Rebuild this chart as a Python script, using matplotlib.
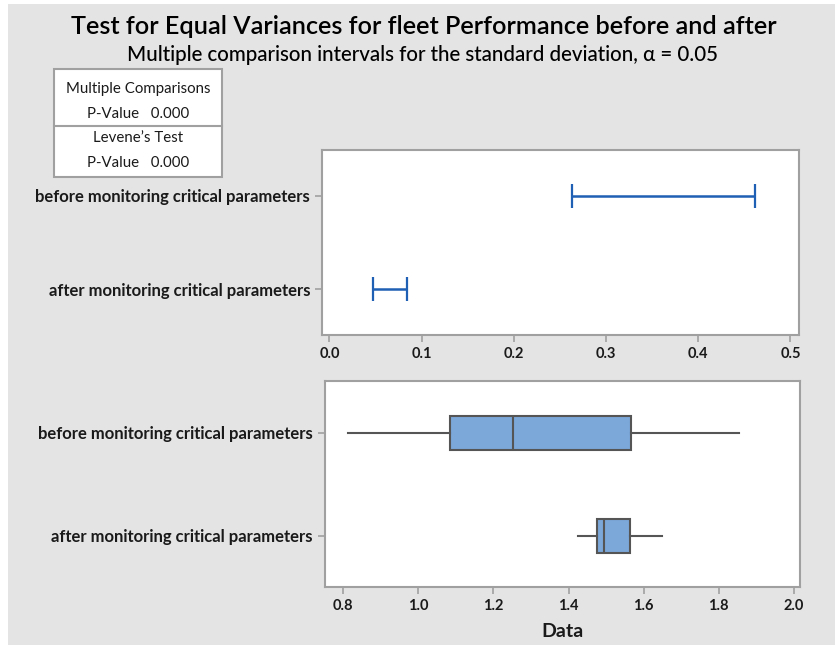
import matplotlib

matplotlib.use("Agg")

import matplotlib.pyplot as plt
from matplotlib.patches import Rectangle

plt.rcParams["font.family"] = ["Lato", "DejaVu Sans"]

groups = ["before monitoring critical parameters", "after monitoring critical parameters"]

# multiple comparison intervals for the standard deviation
sd_lower = [0.263, 0.0474]
sd_upper = [0.462, 0.0845]

# boxplot summaries
whisker_low = [0.812, 1.426]
q1 = [1.083, 1.475]
median = [1.251, 1.495]
q3 = [1.567, 1.565]
whisker_high = [1.855, 1.650]

sd_ticks = [0.0, 0.1, 0.2, 0.3, 0.4, 0.5]
data_ticks = [0.8, 1.0, 1.2, 1.4, 1.6, 1.8, 2.0]

mc_pvalue = "0.000"
levene_pvalue = "0.000"

W, H = 835, 645
BG = "#e4e4e4"
SPINE = "#a0a0a0"
TEXT = "#1a1a1a"


def fx(px):
    return px / W


def fy(py):
    return 1 - py / H


fig = plt.figure(figsize=(W / 100, H / 100), dpi=100, facecolor="white")
fig.patches.append(Rectangle((fx(8), 0), 1 - fx(8), fy(4), transform=fig.transFigure,
                             facecolor=BG, edgecolor="none", zorder=-10))

fig.text(fx(424), fy(27), "Test for Equal Variances for fleet Performance before and after",
         ha="center", va="center", fontsize=18.2, fontweight="semibold", color="black")
fig.text(fx(423), fy(55), "Multiple comparison intervals for the standard deviation, \u03b1 = 0.05",
         ha="center", va="center", fontsize=14.8, fontweight="medium", color="black")

# p-value box
fig.patches.append(Rectangle((fx(54), fy(177)), fx(222) - fx(54), fy(69) - fy(177),
                             transform=fig.transFigure, facecolor="white",
                             edgecolor=SPINE, linewidth=1.5))
fig.add_artist(plt.Line2D([fx(54), fx(222)], [fy(126), fy(126)], transform=fig.transFigure,
                          color=SPINE, linewidth=1.5))
rows = [("Multiple Comparisons", 89), ("P-Value   " + mc_pvalue, 114),
        ("Levene\u2019s Test", 138), ("P-Value   " + levene_pvalue, 163)]
for txt, py in rows:
    fig.text(fx(138), fy(py), txt, ha="center", va="center", fontsize=10.8, color=TEXT)


def style_axis(ax):
    ax.set_facecolor("white")
    for s in ax.spines.values():
        s.set_color(SPINE)
        s.set_linewidth(1.5)
    ax.tick_params(axis="both", colors=SPINE, length=5, width=1.2)
    for lab in ax.get_xticklabels() + ax.get_yticklabels():
        lab.set_color(TEXT)
        lab.set_fontweight("bold")


ypos = [1, 2]

# top: SD intervals
ax1 = fig.add_axes([fx(322), fy(335), fx(799) - fx(322), fy(150) - fy(335)])
mid = [(lo + hi) / 2 for lo, hi in zip(sd_lower, sd_upper)]
err = [(hi - lo) / 2 for lo, hi in zip(sd_lower, sd_upper)]
ax1.errorbar(mid, ypos, xerr=err, fmt="none", ecolor="#1f5fb4", elinewidth=1.8,
             capsize=8.5, capthick=1.6)
ax1.set_xlim(-0.0081, 0.5093)
ax1.set_ylim(2.485, 0.515)
ax1.set_xticks(sd_ticks)
ax1.set_xticklabels([f"{t:.1f}" for t in sd_ticks], fontsize=10.5)
ax1.set_yticks(ypos)
ax1.set_yticklabels(groups, fontsize=12)
style_axis(ax1)

# bottom: boxplots
ax2 = fig.add_axes([fx(324.6), fy(587.3), fx(800.5) - fx(324.6), fy(381.3) - fy(587.3)])
stats = [dict(whislo=a, q1=b, med=c, q3=d, whishi=e, fliers=[])
         for a, b, c, d, e in zip(whisker_low, q1, median, q3, whisker_high)]
ax2.bxp(stats, positions=ypos, vert=False, widths=0.335, patch_artist=True, showcaps=False,
        boxprops=dict(facecolor="#7ba7d9", edgecolor="#555555", linewidth=1.5),
        medianprops=dict(color="#555555", linewidth=1.5),
        whiskerprops=dict(color="#555555", linewidth=1.5))
ax2.set_xlim(0.750, 2.018)
ax2.set_ylim(2.5, 0.5)
ax2.set_xticks(data_ticks)
ax2.set_xticklabels([f"{t:.1f}" for t in data_ticks], fontsize=10.5)
ax2.set_yticks(ypos)
ax2.set_yticklabels(groups, fontsize=12)
ax2.set_xlabel("Data", fontsize=14, fontweight="bold", color=TEXT, labelpad=7)
style_axis(ax2)

fig.savefig("out.png", dpi=100, facecolor=fig.get_facecolor())
